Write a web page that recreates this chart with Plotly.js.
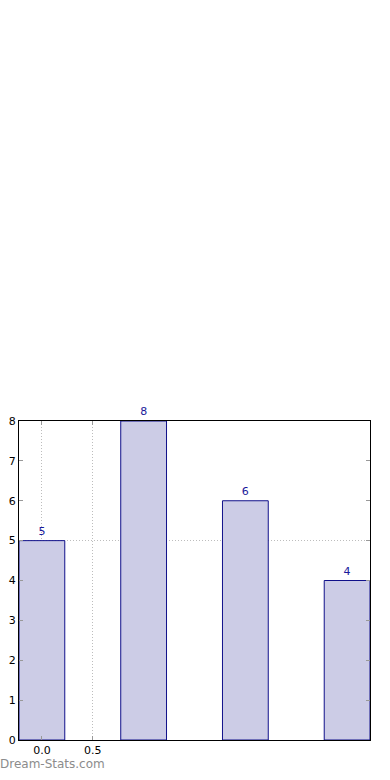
<!DOCTYPE html>
<html><head><meta charset="utf-8">
<script src="https://cdn.plot.ly/plotly-3.0.1.min.js"></script>
<style>html,body{margin:0;padding:0;background:#fff}#chart{width:390px;height:780px}</style>
</head><body><div id="chart"></div>
<script>
const positions = [0, 1, 2, 3];
const values = [5, 8, 6, 4];
const labels = ['5', '8', '6', '4'];
const xTicks = [0, 0.5];
const xTickText = ['0.0', '0.5'];
const yTicks = [0, 1, 2, 3, 4, 5, 6, 7, 8];
const yGrid = [5];

const font = {family: 'DejaVu Sans, sans-serif', size: 11, color: '#000'};
const data = [{
  type: 'bar', x: positions, y: values, width: 0.45,
  marker: {color: 'rgb(204,204,230)', line: {color: '#10108a', width: 1}},
  text: labels, textposition: 'outside', cliponaxis: false,
  textfont: {family: 'DejaVu Sans, sans-serif', size: 11, color: '#1a1a9a'},
  hoverinfo: 'none'
}, {
  type: 'scatter', x: [null], y: [null], yaxis: 'y2', showlegend: false, hoverinfo: 'none'
}];
const layout = {
  width: 390, height: 780,
  margin: {l: 19, r: 20, t: 421, b: 40, pad: 0},
  paper_bgcolor: '#fff', plot_bgcolor: '#fff',
  showlegend: false, font: font, bargap: 0,
  xaxis: {range: [-0.225, 3.225], tickvals: xTicks, ticktext: xTickText,
    showgrid: true, gridcolor: '#bdbdbd', griddash: '1px,2px', gridwidth: 1, layer: 'above traces',
    ticks: 'inside', ticklen: 4, tickcolor: '#999', showline: true, linecolor: '#000', linewidth: 1,
    mirror: 'ticks', zeroline: false, tickfont: font, fixedrange: true},
  yaxis: {range: [0, 8], tickvals: yTicks, showgrid: false,
    ticks: 'inside', ticklen: 4, tickcolor: '#999', showline: true, linecolor: '#000', linewidth: 1,
    mirror: 'ticks', zeroline: false, tickfont: font, fixedrange: true},
  yaxis2: {range: [0, 8], overlaying: 'y', tickvals: yGrid, showticklabels: false, ticks: '',
    showgrid: true, gridcolor: '#bdbdbd', griddash: '1px,2px', gridwidth: 1, zeroline: false, showline: false,
    layer: 'above traces', fixedrange: true},
  annotations: [{xref: 'paper', yref: 'paper', x: -0.06, y: -0.075, xanchor: 'left', yanchor: 'middle',
    text: 'Dream-Stats.com', showarrow: false,
    font: {family: 'DejaVu Sans, sans-serif', size: 12, color: '#8c8c8c'}}]
};
Plotly.newPlot('chart', data, layout, {displayModeBar: false, staticPlot: true});
</script></body></html>
